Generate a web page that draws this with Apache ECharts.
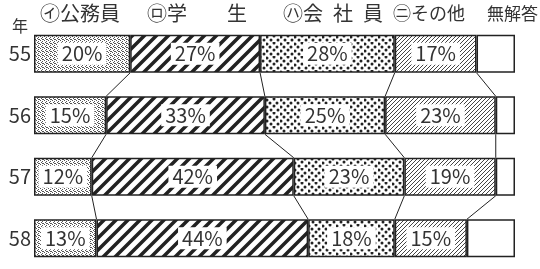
<!DOCTYPE html>
<html>
<head>
<meta charset="utf-8">
<script src="https://cdn.jsdelivr.net/npm/echarts@6/dist/echarts.min.js"></script>
<style>
  html, body { margin: 0; padding: 0; background: #fff; }
  #chart { width: 540px; height: 269px; }
</style>
</head>
<body>
<div id="chart"></div>
<script>
// 年度 (昭和)
const years = ["55", "56", "57", "58"];
// 各回答の割合 (%)
const koumuin = [20, 15, 12, 13];
const gakusei = [27, 33, 42, 44];
const kaishain = [28, 25, 23, 18];
const sonota = [17, 23, 19, 15];
const mukaitou = [8, 4, 4, 10];
const legendNames = ["㋑公務員", "㋺学\u3000\u3000生", "㋩会\u2002社\u2002員", "㊁その他", "無解答"];

const BAR_H = 38;
const FONT = '"Noto Sans CJK JP", "Noto Sans", sans-serif';

function makeTile(w, h, draw) {
  const c = document.createElement("canvas");
  c.width = w;
  c.height = h;
  const ctx = c.getContext("2d");
  ctx.fillStyle = "#fff";
  ctx.fillRect(0, 0, w, h);
  draw(ctx);
  return { image: c, repeat: "repeat" };
}

// 細かい網点
const stipple = makeTile(4, 4, (ctx) => {
  ctx.fillStyle = "#555";
  [[0, 0], [2, 1], [1, 2], [3, 3], [2, 3]].forEach(([x, y]) => ctx.fillRect(x, y, 1, 1));
});
// 太い斜線
const thickStripe = makeTile(12, 12, (ctx) => {
  ctx.strokeStyle = "#222";
  ctx.lineWidth = 3.5;
  ctx.beginPath();
  ctx.moveTo(-2, 14); ctx.lineTo(14, -2);
  ctx.moveTo(-8, 8); ctx.lineTo(8, -8);
  ctx.moveTo(4, 20); ctx.lineTo(20, 4);
  ctx.stroke();
});
// 粗い点
const dots = makeTile(14, 14, (ctx) => {
  ctx.fillStyle = "#222";
  [[1, 2], [8, 1], [4, 5], [11, 5], [1, 9], [8, 8], [5, 12], [12, 12]].forEach(([x, y]) => {
    ctx.beginPath();
    ctx.arc(x, y, 1.5, 0, Math.PI * 2);
    ctx.fill();
  });
});
// 細い斜線
const fineHatch = makeTile(4, 4, (ctx) => {
  ctx.strokeStyle = "#444";
  ctx.lineWidth = 1;
  ctx.beginPath();
  ctx.moveTo(-1, 5); ctx.lineTo(5, -1);
  ctx.moveTo(-1, 1); ctx.lineTo(1, -1);
  ctx.moveTo(3, 5); ctx.lineTo(5, 3);
  ctx.stroke();
});

const seriesData = [koumuin, gakusei, kaishain, sonota, mukaitou];
const fills = [stipple, thickStripe, dots, fineHatch, "#fff"];

// 境界線 (累積値)
const cumulative = years.map((_, i) => {
  let s = 0;
  return seriesData.slice(0, 4).map((arr) => (s += arr[i]));
});
const linkData = [];
for (let i = 0; i < years.length - 1; i++) {
  for (let j = 0; j < 4; j++) linkData.push([i, j]);
}

const barSeries = seriesData.map((arr, k) => ({
  name: legendNames[k],
  type: "bar",
  stack: "total",
  barWidth: BAR_H,
  data: arr,
  itemStyle: { color: fills[k], borderColor: "#222", borderWidth: 1.5 },
  label: {
    show: k < 4,
    position: "inside",
    formatter: "{c}%",
    color: "#333",
    fontFamily: FONT,
    fontSize: 20,
    backgroundColor: "#fff",
    padding: [2, 4, 0, 4],
  },
}));

const myChart = echarts.init(document.getElementById("chart"));

myChart.setOption({
  animation: false,
  grid: { left: 34, right: 25, top: 23, height: 260 },
  xAxis: { type: "value", min: 0, max: 100, show: false },
  yAxis: {
    type: "category",
    data: years,
    inverse: true,
    axisLine: { show: false },
    axisTick: { show: false },
    axisLabel: { color: "#333", fontSize: 20, fontFamily: FONT, margin: 3, padding: [4, 0, 0, 0] },
  },
  graphic: [
    { type: "text", left: 12, top: 18, style: { text: "年", font: "16px " + FONT, fill: "#333" } },
    { type: "text", left: 40, top: 3, style: { text: legendNames[0], font: "20px " + FONT, fill: "#333" } },
    { type: "text", left: 147, top: 3, style: { text: legendNames[1], font: "20px " + FONT, fill: "#333" } },
    { type: "text", left: 283, top: 3, style: { text: legendNames[2], font: "20px " + FONT, fill: "#333" } },
    { type: "text", left: 393, top: 4, style: { text: legendNames[3], font: "18px " + FONT, fill: "#333" } },
    { type: "text", left: 487, top: 5, style: { text: legendNames[4], font: "17px " + FONT, fill: "#333" } },
  ],
  series: barSeries.concat([
    {
      type: "custom",
      data: linkData,
      silent: true,
      renderItem: function (params, api) {
        const i = api.value(0);
        const j = api.value(1);
        const p1 = api.coord([cumulative[i][j], i]);
        const p2 = api.coord([cumulative[i + 1][j], i + 1]);
        return {
          type: "line",
          shape: { x1: p1[0], y1: p1[1] + BAR_H / 2, x2: p2[0], y2: p2[1] - BAR_H / 2 },
          style: { stroke: "#222", lineWidth: 1 },
        };
      },
    },
  ]),
});
</script>
</body>
</html>
